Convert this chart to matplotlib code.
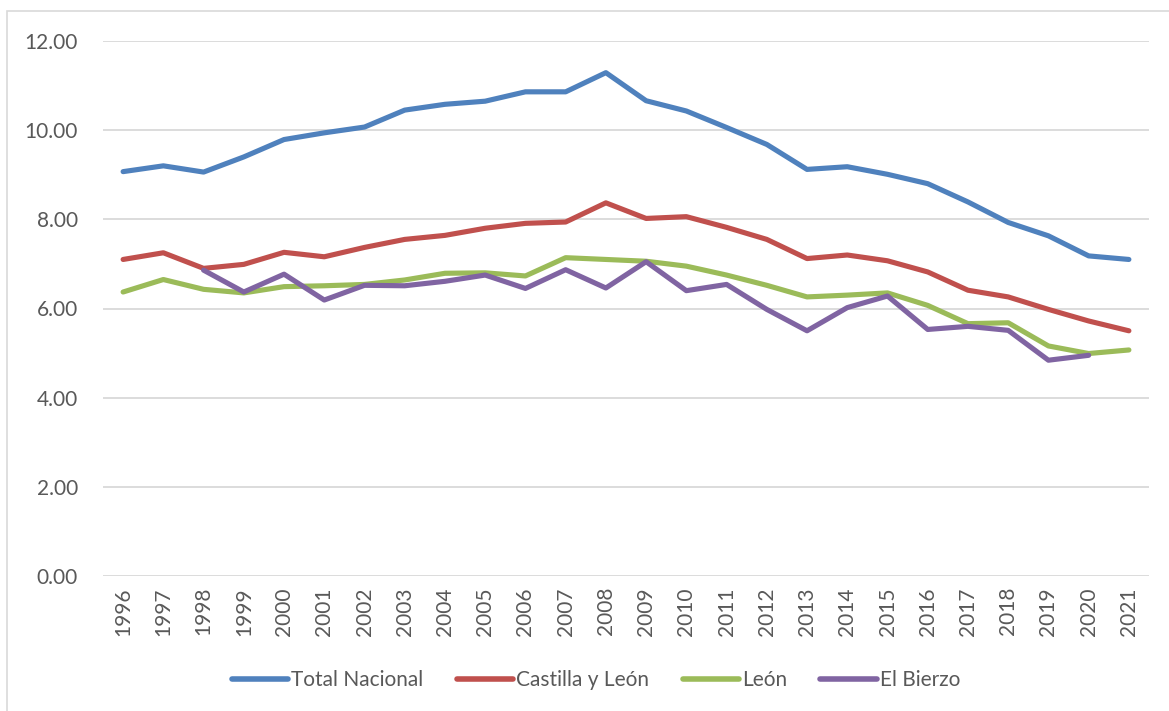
import matplotlib
matplotlib.use("Agg")
import matplotlib.pyplot as plt
from matplotlib.patches import Rectangle

years = [str(y) for y in range(1996, 2022)]
total_nacional = [9.07, 9.20, 9.06, 9.40, 9.79, 9.94, 10.07, 10.45, 10.58, 10.65, 10.86, 10.86, 11.29,
                  10.66, 10.43, 10.06, 9.68, 9.12, 9.18, 9.01, 8.80, 8.39, 7.93, 7.63, 7.18, 7.10]
castilla_leon = [7.10, 7.25, 6.90, 6.99, 7.26, 7.16, 7.37, 7.55, 7.64, 7.80, 7.91, 7.94, 8.37,
                 8.02, 8.06, 7.82, 7.55, 7.12, 7.20, 7.07, 6.82, 6.41, 6.26, 5.98, 5.72, 5.50]
leon = [6.37, 6.65, 6.43, 6.35, 6.49, 6.51, 6.54, 6.64, 6.79, 6.80, 6.73, 7.14, 7.10,
        7.06, 6.95, 6.75, 6.52, 6.26, 6.30, 6.35, 6.07, 5.66, 5.68, 5.16, 4.99, 5.07]
el_bierzo = [None, None, 6.86, 6.37, 6.77, 6.19, 6.52, 6.51, 6.61, 6.75, 6.45, 6.87, 6.46,
             7.05, 6.40, 6.54, 5.98, 5.50, 6.02, 6.28, 5.53, 5.60, 5.51, 4.84, 4.95, None]
series_names = ["Total Nacional", "Castilla y León", "León", "El Bierzo"]
colors = ["#4F81BD", "#C0504D", "#9BBB59", "#8064A2"]
yticks = [0, 2, 4, 6, 8, 10, 12]

plt.rcParams['font.family'] = ['Lato', 'DejaVu Sans']
text_color = "#595959"

fig = plt.figure(figsize=(11.69, 7.11), dpi=100)
W, H = 1169, 711
ax = fig.add_axes([103 / W, 1 - 576 / H, (1149 - 103) / W, (576 - 41) / H])

# outer chart border
fig.patches.append(Rectangle((7 / W, -0.1), 1.2, 1 - 11 / H + 0.1, transform=fig.transFigure,
                             fill=False, edgecolor="#D9D9D9", linewidth=1.2, zorder=0))

x = list(range(len(years)))
for name, data, c in zip(series_names, [total_nacional, castilla_leon, leon, el_bierzo], colors):
    xs = [xi for xi, v in zip(x, data) if v is not None]
    vs = [v for v in data if v is not None]
    ax.plot(xs, vs, color=c, linewidth=3.7, solid_capstyle="round", solid_joinstyle="round",
            label=name, zorder=3)

ax.set_xlim(-0.5, len(years) - 0.5)
ax.set_ylim(0, 12)
ax.set_yticks(yticks)
ax.set_yticklabels([f"{v:.2f}" for v in yticks])
ax.set_xticks(x)
ax.set_xticklabels(years, rotation=90)
ax.grid(axis="y", color="#D9D9D9", linewidth=1.3)
ax.set_axisbelow(True)
for s in ax.spines.values():
    s.set_visible(False)
ax.tick_params(axis="both", length=0, colors=text_color, labelsize=15)
ax.tick_params(axis="y", pad=18)
ax.tick_params(axis="x", pad=8)

leg = fig.legend(loc="center", bbox_to_anchor=(596 / W, 1 - 680 / H), ncol=4, frameon=False,
                 fontsize=15, handlelength=2.7, handletextpad=0.15, columnspacing=1.6)
for t in leg.get_texts():
    t.set_color(text_color)
for l in leg.get_lines():
    l.set_linewidth(4)
    l.set_solid_capstyle("round")

fig.savefig("out.png", dpi=100, facecolor="white")
